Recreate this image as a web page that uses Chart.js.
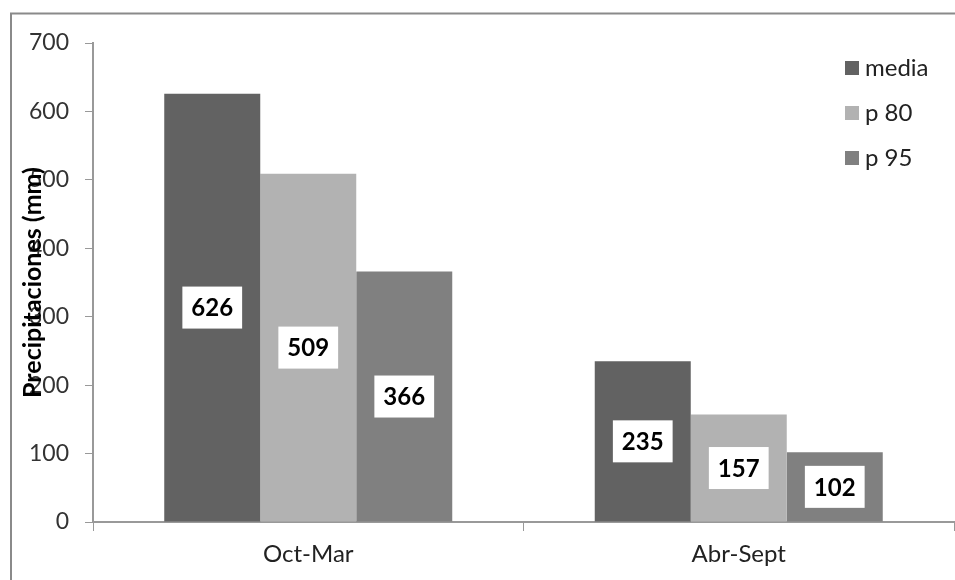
<!DOCTYPE html>
<html>
<head>
<meta charset="utf-8">
<script src="https://cdn.jsdelivr.net/npm/chart.js@4.4.0/dist/chart.umd.min.js"></script>
<style>
    body { margin: 0; background: #fff; }
    #wrap { width: 955px; height: 580px; }
</style>
</head>
<body>
<div id="wrap"><canvas id="precipChart" width="955" height="580"></canvas></div>
<script>
// Precipitation by season
const seasons = ["Oct-Mar", "Abr-Sept"];
const media = [626, 235];
const p80 = [509, 157];
const p95 = [366, 102];
const yTicks = [0, 100, 200, 300, 400, 500, 600, 700];

const FONT = "Lato, 'Open Sans', sans-serif";

// Outer frame (top and left edges visible)
const framePlugin = {
    id: "frame",
    beforeDraw(chart) {
        const ctx = chart.ctx;
        ctx.save();
        ctx.strokeStyle = "#8a8a8a";
        ctx.lineWidth = 2;
        ctx.strokeRect(11, 13.5, 1000, 700);
        ctx.restore();
    },
};

// White boxes with the value in the middle of each bar
const valueBoxes = {
    id: "valueBoxes",
    afterDatasetsDraw(chart) {
        const ctx = chart.ctx;
        ctx.save();
        ctx.font = "bold 24px " + FONT;
        ctx.textAlign = "center";
        ctx.textBaseline = "middle";
        chart.data.datasets.forEach((ds, i) => {
            chart.getDatasetMeta(i).data.forEach((bar, j) => {
                const txt = String(ds.data[j]);
                const w = ctx.measureText(txt).width + 18;
                const h = 42;
                const cy = (bar.y + bar.base) / 2;
                ctx.fillStyle = "#fff";
                ctx.fillRect(bar.x - w / 2, cy - h / 2, w, h);
                ctx.fillStyle = "#000";
                ctx.fillText(txt, bar.x, cy + 1);
            });
        });
        ctx.restore();
    },
};

// Legend in the top right corner, one row per series
const cornerLegend = {
    id: "cornerLegend",
    afterDraw(chart) {
        const ctx = chart.ctx;
        ctx.save();
        ctx.font = "24px " + FONT;
        ctx.textBaseline = "middle";
        chart.data.datasets.forEach((ds, i) => {
            const y = 68 + i * 45;
            ctx.fillStyle = ds.backgroundColor;
            ctx.fillRect(845, y - 7, 14, 14);
            ctx.fillStyle = "#222";
            ctx.fillText(ds.label, 865, y);
        });
        ctx.restore();
    },
};

// Axis title sits over the tick labels
const yTitle = {
    id: "yTitle",
    afterDraw(chart) {
        const ctx = chart.ctx;
        const area = chart.chartArea;
        ctx.save();
        ctx.translate(33, (area.top + area.bottom) / 2);
        ctx.rotate(-Math.PI / 2);
        ctx.font = "bold 25px " + FONT;
        ctx.textAlign = "center";
        ctx.textBaseline = "middle";
        ctx.fillStyle = "#000";
        ctx.fillText("Precipitaciones (mm)", 0, 0);
        ctx.restore();
    },
};

new Chart(document.getElementById("precipChart").getContext("2d"), {
    type: "bar",
    data: {
        labels: seasons,
        datasets: [
            { label: "media", data: media, backgroundColor: "#626262" },
            { label: "p 80", data: p80, backgroundColor: "#b2b2b2" },
            { label: "p 95", data: p95, backgroundColor: "#808080" },
        ],
    },
    options: {
        responsive: false,
        animation: false,
        layout: { padding: { left: 0, top: 43, right: 1, bottom: 0 } },
        datasets: { bar: { categoryPercentage: 0.669, barPercentage: 1 } },
        scales: {
            x: {
                grid: { drawOnChartArea: false, color: "#999", tickLength: 9 },
                border: { color: "#999", width: 2 },
                ticks: { color: "#222", font: { family: FONT, size: 24 }, padding: 9 },
                afterFit: (scale) => { scale.height = 58; },
            },
            y: {
                min: 0,
                max: 700,
                grid: { drawOnChartArea: false, color: "#999", tickLength: 8 },
                border: { color: "#999", width: 2 },
                afterBuildTicks: (scale) => { scale.ticks = yTicks.map((v) => ({ value: v })); },
                ticks: { color: "#333", font: { family: FONT, size: 23 }, padding: 16 },
                afterFit: (scale) => { scale.width = 93; },
            },
        },
        plugins: { legend: { display: false }, tooltip: { enabled: false } },
    },
    plugins: [framePlugin, valueBoxes, cornerLegend, yTitle],
});
</script>
</body>
</html>
